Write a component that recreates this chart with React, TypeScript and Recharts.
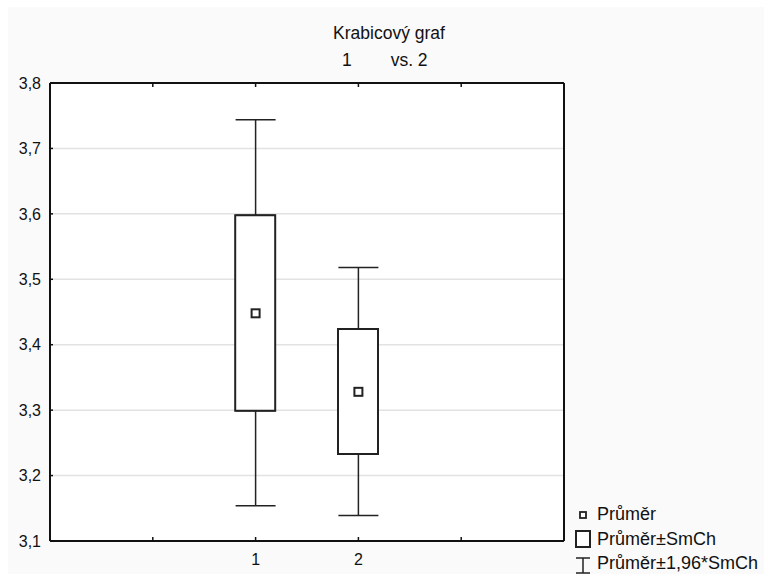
import {
  ComposedChart,
  Bar,
  Scatter,
  ErrorBar,
  XAxis,
  YAxis,
  CartesianGrid,
} from "recharts";

const categories = [1, 2];
const means = [3.448, 3.328];
const boxLow = [3.299, 3.233];
const boxHigh = [3.598, 3.424];
const whiskerLow = [3.154, 3.139];
const whiskerHigh = [3.744, 3.518];
const yTicks = [3.1, 3.2, 3.3, 3.4, 3.5, 3.6, 3.7, 3.8];
const xTicks = [-1, 0, 1, 2, 3, 4];
const legendLabels = ["Průměr", "Průměr±SmCh", "Průměr±1,96*SmCh"];

// whiskers are split so that they start at the box edges
const data = categories.map((c, i) => ({
  x: c,
  mean: means[i],
  box: [boxLow[i], boxHigh[i]],
  top: boxHigh[i],
  bottom: boxLow[i],
  errUp: [0, whiskerHigh[i] - boxHigh[i]],
  errDown: [boxLow[i] - whiskerLow[i], 0],
}));

const font = "'Liberation Sans', Arial, sans-serif";
const tickStyle = { fill: "#111", fontSize: 16, fontFamily: font };

const MeanMarker = (props: any) => {
  const { cx, cy } = props;
  if (cx == null || cy == null) return null;
  return <rect x={cx - 4} y={cy - 4} width={8} height={8} fill="#fff" stroke="#222" strokeWidth={2} />;
};

// legend drawn by hand, outside the chart so it does not eat plot space
const LegendBox = () => (
  <svg width={192} height={72} style={{ fontFamily: font, fontSize: 18, overflow: "visible" }}>
    <rect x={6} y={9} width={6} height={6} fill="#fff" stroke="#222" strokeWidth={1.8} />
    <text x={23} y={17} fill="#111">{legendLabels[0]}</text>
    <rect x={2} y={28} width={14} height={16} fill="#fff" stroke="#222" strokeWidth={2} />
    <text x={23} y={42} fill="#111">{legendLabels[1]}</text>
    <line x1={2} y1={55} x2={16} y2={55} stroke="#222" strokeWidth={1.5} />
    <line x1={9} y1={55} x2={9} y2={70} stroke="#222" strokeWidth={1.5} />
    <line x1={2} y1={70} x2={16} y2={70} stroke="#222" strokeWidth={1.5} />
    <text x={23} y={66} fill="#111">{legendLabels[2]}</text>
  </svg>
);

export default function App() {
  return (
    <div style={{ position: "absolute", left: 0, top: 0, width: 764, height: 574, background: "#fff" }}>
      <div style={{ position: "absolute", left: 8, top: 7, width: 756, height: 567, background: "#fafafa" }}>
        <div
          style={{
            position: "absolute",
            left: 0,
            top: 16,
            width: 762,
            textAlign: "center",
            fontFamily: font,
            fontSize: 17.5,
            color: "#111",
          }}
        >
          Krabicový graf
        </div>
        <div
          style={{
            position: "absolute",
            left: 334,
            top: 43,
            fontFamily: font,
            fontSize: 17.5,
            color: "#111",
            whiteSpace: "pre",
          }}
        >
          {"1        vs. 2"}
        </div>
        <ComposedChart
          width={756}
          height={567}
          data={data}
          margin={{ top: 75, right: 199, bottom: 0, left: 0 }}
        >
          <CartesianGrid vertical={false} stroke="#e2e2e2" fill="#fff" strokeWidth={1.5} />
          <XAxis
            dataKey="x"
            type="number"
            domain={[-1, 4]}
            ticks={xTicks}
            interval={0}
            height={33}
            axisLine={{ stroke: "#111", strokeWidth: 2 }}
            tickLine={{ stroke: "#111", strokeWidth: 1.5 }}
            tickSize={-4}
            tickMargin={17}
            tick={tickStyle}
            tickFormatter={(v: number) => (categories.includes(v) ? String(v) : "")}
          />
          <XAxis
            xAxisId="top"
            dataKey="x"
            type="number"
            orientation="top"
            domain={[-1, 4]}
            ticks={xTicks}
            interval={0}
            height={1}
            axisLine={{ stroke: "#111", strokeWidth: 2 }}
            tickLine={{ stroke: "#111", strokeWidth: 1.5 }}
            tickSize={-4}
            tickFormatter={() => ""}
          />
          <YAxis
            type="number"
            domain={[3.1, 3.8]}
            ticks={yTicks}
            interval={0}
            allowDataOverflow
            width={42}
            axisLine={{ stroke: "#111", strokeWidth: 2 }}
            tickLine={{ stroke: "#111", strokeWidth: 1.5 }}
            tickSize={-3}
            tickMargin={12}
            tick={tickStyle}
            tickFormatter={(v: number) => v.toFixed(1).replace(".", ",")}
          />
          <YAxis
            yAxisId="right"
            orientation="right"
            type="number"
            domain={[3.1, 3.8]}
            ticks={yTicks}
            interval={0}
            width={1}
            axisLine={{ stroke: "#111", strokeWidth: 2 }}
            tickLine={{ stroke: "#111", strokeWidth: 1.5 }}
            tickSize={-3}
            tickFormatter={() => ""}
          />
          <Scatter dataKey="top" shape={() => null} isAnimationActive={false}>
            <ErrorBar dataKey="errUp" direction="y" width={20} stroke="#222" strokeWidth={1.5} />
          </Scatter>
          <Scatter dataKey="bottom" shape={() => null} isAnimationActive={false}>
            <ErrorBar dataKey="errDown" direction="y" width={20} stroke="#222" strokeWidth={1.5} />
          </Scatter>
          <Bar
            dataKey="box"
            barSize={40}
            fill="#fff"
            stroke="#222"
            strokeWidth={2}
            isAnimationActive={false}
          />
          <Scatter dataKey="mean" shape={<MeanMarker />} isAnimationActive={false} />
        </ComposedChart>
        <div style={{ position: "absolute", left: 566, top: 496 }}>
          <LegendBox />
        </div>
      </div>
    </div>
  );
}
